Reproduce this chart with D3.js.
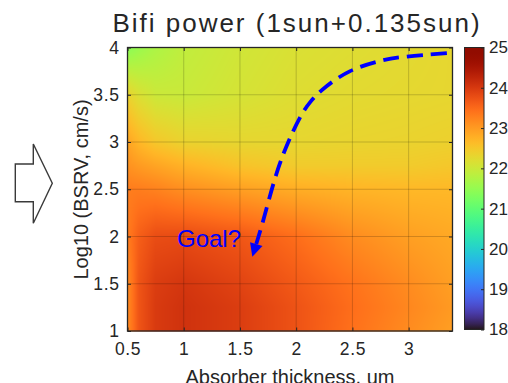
<!DOCTYPE html>
<html>
<head>
<meta charset="utf-8">
<script src="https://cdn.jsdelivr.net/npm/d3@7"></script>
<style>
  html, body { margin: 0; padding: 0; background: #fff; }
  svg { display: block; }
  text { font-family: "Liberation Sans", Arial, sans-serif; fill: #262626; }
</style>
</head>
<body>
<svg id="chart" width="508" height="383"></svg>
<script>
// Absorber thickness (um) grid columns
const thickness = [0.5, 0.6, 0.75, 1, 1.5, 2, 2.5, 3, 3.4];
// log10 of back-surface recombination velocity (cm/s) grid rows
const logBSRV = [1, 1.25, 1.5, 2, 2.5, 2.75, 3, 3.5, 4];
// Bifacial output power, one row per logBSRV value
const power = [
  [23.15, 23.70, 23.98, 24.08, 23.95, 23.72, 23.42, 23.15, 22.95],
  [23.15, 23.70, 23.98, 24.08, 23.95, 23.72, 23.45, 23.20, 23.00],
  [23.15, 23.70, 23.95, 24.03, 23.88, 23.65, 23.40, 23.15, 22.95],
  [23.30, 23.60, 23.78, 23.80, 23.68, 23.45, 23.15, 22.95, 22.85],
  [23.30, 23.30, 23.25, 23.12, 22.95, 22.80, 22.72, 22.68, 22.68],
  [23.10, 23.00, 22.90, 22.75, 22.55, 22.45, 22.45, 22.45, 22.50],
  [22.90, 22.70, 22.50, 22.35, 22.30, 22.30, 22.33, 22.35, 22.38],
  [22.35, 22.15, 22.00, 21.98, 22.10, 22.20, 22.25, 22.28, 22.30],
  [21.40, 21.55, 21.72, 21.90, 22.05, 22.15, 22.20, 22.25, 22.30]
];
const xTicks = [0.5, 1, 1.5, 2, 2.5, 3];
const yTicks = [1, 1.5, 2, 2.5, 3, 3.5, 4];
const cTicks = [18, 19, 20, 21, 22, 23, 24, 25];
// Suggested optimisation path, from thick/high-BSRV toward the goal
const pathX = [3.34, 2.95, 2.72, 2.48, 2.27, 2.13, 2.03, 1.93, 1.84, 1.76, 1.70, 1.645];
const pathY = [3.94, 3.90, 3.85, 3.75, 3.59, 3.43, 3.25, 3.00, 2.72, 2.40, 2.14, 1.92];
const arrowTip = [1.61, 1.785];

const svg = d3.select("#chart");
const plot = { left: 127.5, right: 452.5, top: 47.5, bottom: 331 };

const x = d3.scaleLinear().domain([0.5, 3.39]).range([plot.left, plot.right]);
const y = d3.scaleLinear().domain([1, 4]).range([plot.bottom, plot.top]);
const color = d3.scaleSequential(d3.interpolateTurbo).domain([18, 25]);

// Bilinear interpolation over the (non-uniform) grid
function sample(tx, ty) {
  const i = Math.max(0, Math.min(thickness.length - 2, d3.bisectRight(thickness, tx) - 1));
  const j = Math.max(0, Math.min(logBSRV.length - 2, d3.bisectRight(logBSRV, ty) - 1));
  const u = Math.max(0, Math.min(1, (tx - thickness[i]) / (thickness[i + 1] - thickness[i])));
  const v = Math.max(0, Math.min(1, (ty - logBSRV[j]) / (logBSRV[j + 1] - logBSRV[j])));
  const a = power[j][i], b = power[j][i + 1], c = power[j + 1][i], d = power[j + 1][i + 1];
  return (1 - v) * ((1 - u) * a + u * b) + v * ((1 - u) * c + u * d);
}

// Render the interpolated surface into a canvas, then place it as an image
const W = Math.round(plot.right - plot.left), H = Math.round(plot.bottom - plot.top);
const canvas = document.createElement("canvas");
canvas.width = W; canvas.height = H;
const ctx = canvas.getContext("2d");
const img = ctx.createImageData(W, H);
for (let py = 0; py < H; py++) {
  const ty = y.invert(plot.top + py + 0.5);
  for (let px = 0; px < W; px++) {
    const tx = x.invert(plot.left + px + 0.5);
    const c = d3.rgb(color(sample(tx, ty)));
    const k = (py * W + px) * 4;
    img.data[k] = c.r; img.data[k + 1] = c.g; img.data[k + 2] = c.b; img.data[k + 3] = 255;
  }
}
ctx.putImageData(img, 0, 0);
svg.append("image")
  .attr("x", plot.left).attr("y", plot.top)
  .attr("width", W).attr("height", H)
  .attr("preserveAspectRatio", "none")
  .attr("href", canvas.toDataURL());

// Grid lines
const grid = svg.append("g").attr("stroke", "#000").attr("stroke-opacity", 0.18).attr("stroke-width", 1);
grid.selectAll(".gx").data(xTicks.slice(1)).join("line")
  .attr("x1", d => x(d)).attr("x2", d => x(d))
  .attr("y1", plot.top).attr("y2", plot.bottom);
grid.selectAll(".gy").data(yTicks.slice(1, -1)).join("line")
  .attr("x1", plot.left).attr("x2", plot.right)
  .attr("y1", d => y(d)).attr("y2", d => y(d));

// Axes (ticks point inward, as on a boxed plot)
const fs = "17.5px";
const xAxis = svg.append("g").attr("transform", `translate(0,${plot.bottom})`)
  .call(d3.axisBottom(x).tickValues(xTicks).tickSize(-3.5).tickPadding(11).tickFormat(d3.format("")));
const yAxis = svg.append("g").attr("transform", `translate(${plot.left},0)`)
  .call(d3.axisLeft(y).tickValues(yTicks).tickSize(-3.5).tickPadding(8).tickFormat(d3.format("")));
const xTop = svg.append("g").attr("transform", `translate(0,${plot.top})`)
  .call(d3.axisTop(x).tickValues(xTicks).tickSize(-3.5).tickFormat(""));
const yRight = svg.append("g").attr("transform", `translate(${plot.right},0)`)
  .call(d3.axisRight(y).tickValues(yTicks).tickSize(-3.5).tickFormat(""));
[xAxis, yAxis, xTop, yRight].forEach(g => {
  g.select(".domain").remove();
  g.selectAll("line").attr("stroke", "#262626").attr("stroke-width", 1);
  g.selectAll("text").attr("font-size", fs).attr("letter-spacing", "0.6px")
    .attr("font-family", "Liberation Sans, Arial, sans-serif").attr("fill", "#262626");
});
xAxis.selectAll("text").attr("dy", "0.75em");

svg.append("rect")
  .attr("x", plot.left).attr("y", plot.top)
  .attr("width", plot.right - plot.left).attr("height", plot.bottom - plot.top)
  .attr("fill", "none").attr("stroke", "#262626").attr("stroke-width", 1.3);

// Dashed path and arrowhead
const pts = pathX.map((d, i) => [d, pathY[i]]);
const line = d3.line().x(d => x(d[0])).y(d => y(d[1])).curve(d3.curveNatural);
svg.append("path").attr("d", line(pts))
  .attr("fill", "none").attr("stroke", "#0000ff").attr("stroke-width", 3.8)
  .attr("stroke-dasharray", "16,8");
{
  const bx = x(pathX[pathX.length - 1]), by = y(pathY[pathY.length - 1]);
  const tx = x(arrowTip[0]), ty = y(arrowTip[1]);
  const dx = tx - bx, dy = ty - by, len = Math.hypot(dx, dy);
  const nx = -dy / len, ny = dx / len, hw = 6.5;
  svg.append("path")
    .attr("d", `M${tx},${ty}L${bx + nx * hw},${by + ny * hw}L${bx - nx * hw},${by - ny * hw}Z`)
    .attr("fill", "#0000ff");
}
svg.append("text").attr("x", 177).attr("y", 246.5)
  .attr("font-size", "24px").style("fill", "#0000ff").text("Goal?");

// Colorbar
const cb = { left: 464.5, right: 484, top: 47.5, bottom: 329.5 };
const cy = d3.scaleLinear().domain([18, 25]).range([cb.bottom, cb.top]);
const grad = svg.append("defs").append("linearGradient")
  .attr("id", "cbar").attr("x1", 0).attr("y1", 1).attr("x2", 0).attr("y2", 0);
d3.range(0, 1.0001, 0.02).forEach(t => {
  grad.append("stop").attr("offset", t).attr("stop-color", color(18 + t * 7));
});
svg.append("rect").attr("x", cb.left).attr("y", cb.top)
  .attr("width", cb.right - cb.left).attr("height", cb.bottom - cb.top)
  .attr("fill", "url(#cbar)").attr("stroke", "#262626").attr("stroke-width", 1);
const cAxis = svg.append("g").attr("transform", `translate(${cb.right},0)`)
  .call(d3.axisRight(cy).tickValues(cTicks).tickSize(-3).tickPadding(5).tickFormat(d3.format("d")));
cAxis.select(".domain").remove();
cAxis.selectAll("line").attr("stroke", "#262626");
cAxis.selectAll("text").attr("font-size", "17px")
  .attr("font-family", "Liberation Sans, Arial, sans-serif").attr("fill", "#262626");

// Titles
svg.append("text").attr("x", 297).attr("y", 32).attr("text-anchor", "middle")
  .attr("font-size", "26px").attr("letter-spacing", "2px").text("Bifi power (1sun+0.135sun)");
svg.append("text").attr("x", 290).attr("y", 384).attr("text-anchor", "middle")
  .attr("font-size", "20px").text("Absorber thickness, um");
svg.append("text").attr("transform", "translate(87.5,189.5) rotate(-90)").attr("text-anchor", "middle")
  .attr("font-size", "20px").text("Log10 (BSRV, cm/s)");

// Outline arrow at the left margin
svg.append("path")
  .attr("d", "M15.3,164L33.3,164L33.3,144L52.3,183.3L33.3,223.3L33.3,201.7L15.3,201.7Z")
  .attr("fill", "#fff").attr("stroke", "#3a3a3a").attr("stroke-width", 1.4);
</script>
</body>
</html>
